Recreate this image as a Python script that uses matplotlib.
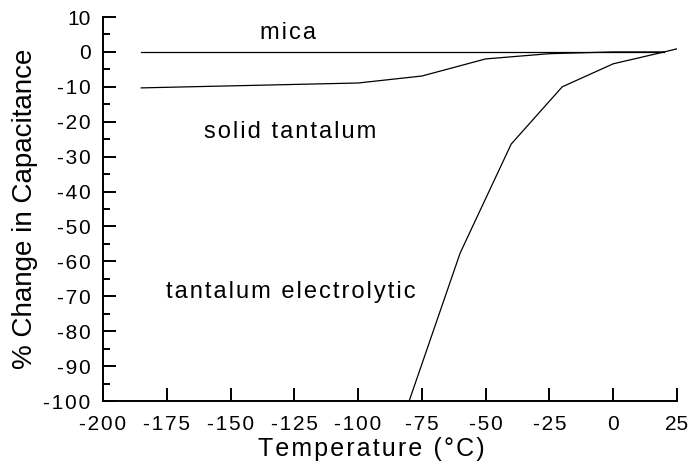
import matplotlib.pyplot as plt
from matplotlib.ticker import MultipleLocator, FuncFormatter

plt.rcParams['font.family'] = ['Liberation Sans', 'DejaVu Sans']
plt.rcParams['axes.unicode_minus'] = False

# temperature (°C) and % change in capacitance
mica_t = [-185, 20]
mica_c = [0, 0]

solid_t = [-185, -100, -75, -50, -25, 0, 20]
solid_c = [-10.3, -8.9, -6.9, -2.0, -0.5, 0, 0]

electro_t = [-80, -60, -40, -20, 0, 20, 25]
electro_c = [-100, -57.6, -26.4, -10.0, -3.4, 0, 0.9]

x_ticks = [-200, -175, -150, -125, -100, -75, -50, -25, 0, 25]
y_ticks = [10, 0, -10, -20, -30, -40, -50, -60, -70, -80, -90, -100]

labels = [("mica", -127.5, 3.7), ("solid tantalum", -126.6, -24.6),
          ("tantalum electrolytic", -126.4, -70.5)]

HAIR = '\u200a'


def track(s):
    # the original text is slightly letter-spaced, fake it with hair spaces
    return HAIR.join(s)


def tick_fmt(v, pos):
    s = '%d' % v
    # keep the last x label ("25") tight so it stays inside the figure
    return s if v > 0 else track(s)


fig = plt.figure(figsize=(6.89, 4.65), dpi=100)
ax = fig.add_axes([0.1495, 0.1376, 0.8331, 0.8258])

for t, c in [(mica_t, mica_c), (solid_t, solid_c), (electro_t, electro_c)]:
    ax.plot(t, c, color='black', lw=0.9)

for txt, x, y in labels:
    ax.text(x, y, track(txt), ha='center', va='baseline', fontsize=17)

ax.set_xlim(-200, 25)
ax.set_ylim(-100, 10)
ax.set_xticks(x_ticks)
ax.set_yticks(y_ticks)
ax.yaxis.set_minor_locator(MultipleLocator(5))
fmt = FuncFormatter(tick_fmt)
ax.xaxis.set_major_formatter(fmt)
ax.yaxis.set_major_formatter(fmt)

for s in ['top', 'right']:
    ax.spines[s].set_visible(False)
for s in ['left', 'bottom']:
    ax.spines[s].set_linewidth(1.4)

ax.tick_params(which='major', direction='in', length=9.5, width=1.4,
               labelsize=15)
ax.tick_params(which='minor', direction='in', length=5, width=1.4)
ax.tick_params(axis='x', pad=10)
ax.tick_params(axis='y', pad=9)

fig.text(371 / 689, 1 - 456 / 465, track('Temperature (°C)'),
         ha='center', va='baseline', fontsize=18)
fig.text(25 / 689, 1 - 209 / 465, '% Change in Capacitance', rotation=90,
         ha='center', va='center', fontsize=20)

fig.savefig('out.png', dpi=100)
